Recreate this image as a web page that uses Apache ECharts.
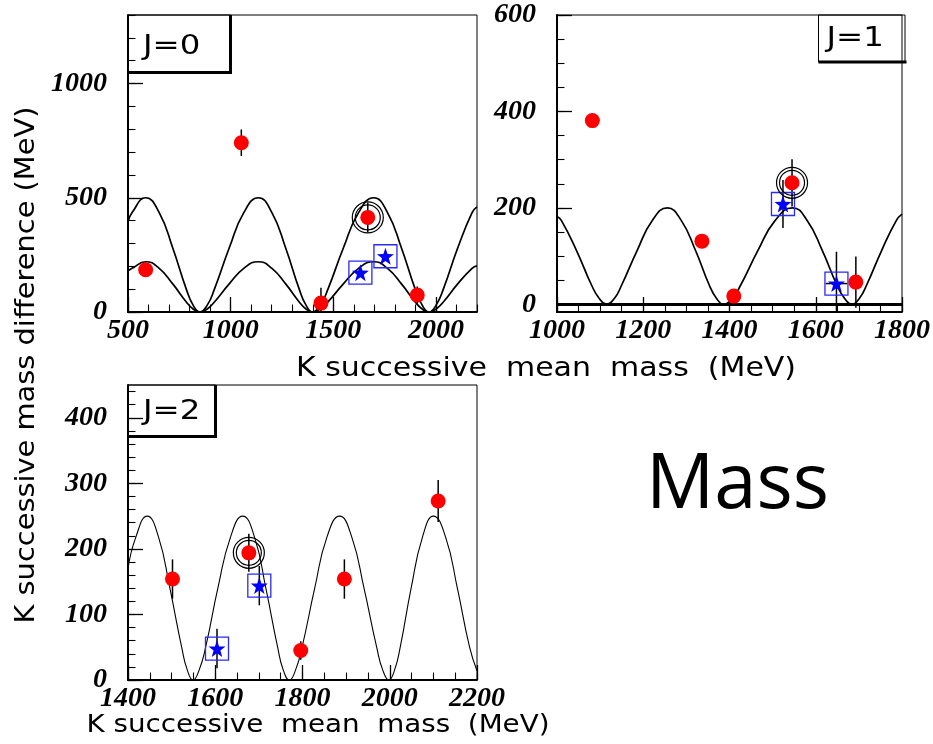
<!DOCTYPE html>
<html>
<head>
<meta charset="utf-8">
<script src="https://cdn.jsdelivr.net/npm/echarts@6/dist/echarts.min.js"></script>
<style>
  html, body { margin: 0; padding: 0; background: #fff; }
  #chart { width: 933px; height: 744px; }
</style>
</head>
<body>
<div id="chart"></div>
<script>
// ---- J=0 panel ----
// [mass, difference, error]
const j0Points = [[586, 185, 0], [1052, 741, 58], [1440, 39, 67], [1668, 414, 65], [1909, 74, 38]];
// [mass, difference, error, mass error]
const j0Stars = [[1632, 172, 0, 0], [1754, 244, 0, 0]];
const j0Ringed = [[1668, 414]];
const j0CurveHigh = [[500, 395], [520, 435], [586, 500], [652, 435], [718, 280], [784, 100], [817, 30], [850, 0],
  [886, 30], [921, 100], [993, 280], [1064, 435], [1135, 500], [1201, 435], [1268, 280], [1334, 100], [1367, 30], [1400, 0],
  [1437, 30], [1474, 100], [1549, 280], [1623, 435], [1697, 500], [1764, 435], [1832, 280], [1899, 100], [1933, 30], [1966, 0],
  [2001, 30], [2036, 100], [2106, 280], [2176, 435], [2200, 460]];
const j0CurveLow = [[500, 180], [520, 191], [586, 220], [652, 191], [718, 123], [784, 44], [817, 13], [850, 0],
  [886, 13], [921, 44], [993, 123], [1064, 191], [1135, 220], [1201, 191], [1268, 123], [1334, 44], [1367, 13], [1400, 0],
  [1437, 13], [1474, 44], [1549, 123], [1623, 191], [1697, 220], [1764, 191], [1832, 123], [1899, 44], [1933, 13], [1966, 0],
  [2001, 13], [2036, 44], [2106, 123], [2176, 191], [2200, 202]];
const j0MajorX = [500, 1000, 1500, 2000];
const j0MajorY = [0, 500, 1000];

// ---- J=1 panel ----
const j1Points = [[1082, 381, 0], [1336, 131, 0], [1410, 17, 0], [1545, 252, 49], [1693, 46, 53]];
const j1Stars = [[1524, 208, 50, 0], [1648, 43, 66, 25]];
const j1Ringed = [[1545, 252]];
const j1Curve = [[1000, 182], [1010, 174], [1045, 112], [1080, 40], [1098, 12], [1115, 0],
  [1133, 12], [1150, 40], [1186, 112], [1221, 174], [1256, 200], [1288, 174], [1321, 112], [1353, 40], [1370, 12], [1386, 0],
  [1406, 12], [1426, 40], [1466, 112], [1506, 174], [1546, 200], [1580, 174], [1615, 112], [1649, 40], [1667, 12], [1684, 0],
  [1701, 12], [1718, 40], [1753, 112], [1787, 174], [1800, 187]];
const j1MajorX = [1000, 1200, 1400, 1600, 1800];
const j1MajorY = [0, 200, 400, 600];

// ---- J=2 panel ----
const j2Points = [[1502, 154, 30], [1677, 194, 29], [1796, 45, 14], [1896, 154, 30], [2111, 273, 32]];
const j2Stars = [[1604, 48, 30, 0], [1701, 144, 30, 0]];
const j2Ringed = [[1677, 194]];
const j2Curve = [[1400, 170], [1418, 218], [1444, 250], [1470, 218], [1496, 140], [1523, 50], [1536, 15], [1549, 0],
  [1563, 15], [1578, 50], [1606, 140], [1635, 218], [1663, 250], [1690, 218], [1716, 140], [1743, 50], [1756, 15], [1770, 0],
  [1784, 15], [1799, 50], [1828, 140], [1856, 218], [1885, 250], [1913, 218], [1941, 140], [1970, 50], [1984, 15], [1998, 0],
  [2011, 15], [2024, 50], [2049, 140], [2075, 218], [2100, 250], [2128, 218], [2155, 140], [2183, 50], [2200, 14]];
const j2MajorX = [1400, 1600, 1800, 2000, 2200];
const j2MajorY = [0, 100, 200, 300, 400];

const legendLabels = ['J=0', 'J=1', 'J=2'];
const xTitle = 'K successive  mean  mass  (MeV)';
const yTitle = 'K successive mass difference (MeV)';
const sideText = 'Mass';

// ---- layout & style ----
const panels = [
  { grid: { left: 128, top: 15, width: 349, height: 297 }, x: [500, 2200], y: [0, 1300],
    majorX: j0MajorX, majorY: j0MajorY, minorXStep: 100, minorYStep: 100 },
  { grid: { left: 557, top: 15, width: 348, height: 297 }, x: [1000, 1800], y: [-16, 600],
    majorX: j1MajorX, majorY: j1MajorY, minorXStep: 50, minorYStep: 50 },
  { grid: { left: 128, top: 385, width: 349, height: 295 }, x: [1400, 2200], y: [0, 450],
    majorX: j2MajorX, majorY: j2MajorY, minorXStep: 50, minorYStep: 20 }
];

function steps(a, b, s) {
  const out = [];
  for (let v = a; v <= b + 1e-9; v += s) out.push(v);
  return out;
}

const tickFont = { fontFamily: 'Liberation Serif', fontWeight: 'bold', fontStyle: 'italic', fontSize: 28, color: '#000' };

const grids = [], xAxes = [], yAxes = [];
panels.forEach((p, i) => {
  grids.push(Object.assign({ show: true, borderColor: '#000', borderWidth: 1, backgroundColor: 'transparent' }, p.grid));
  const mk = (dim, range, majors, minorStep) => {
    const pos = dim === 'x' ? 'bottom' : 'left';
    const lo = Math.max(range[0], 0);
    return [
      { type: 'value', gridIndex: i, min: range[0], max: range[1], position: pos, z: 3,
        axisLine: { show: true, onZero: false, lineStyle: { color: '#000', width: 2 } },
        axisTick: { show: true, inside: true, length: 15, customValues: majors, lineStyle: { color: '#000', width: 1.3 } },
        axisLabel: Object.assign({ show: true, customValues: majors, margin: dim === 'x' ? 5 : 21,
          formatter: v => String(v) }, tickFont),
        splitLine: { show: false } },
      { type: 'value', gridIndex: i, min: range[0], max: range[1], position: pos, z: 3,
        axisLine: { show: false, onZero: false },
        axisTick: { show: true, inside: true, length: 7.5, customValues: steps(lo, range[1], minorStep), lineStyle: { color: '#000', width: 1.1 } },
        axisLabel: { show: false }, splitLine: { show: false } }
    ];
  };
  xAxes.push(...mk('x', p.x, p.majorX, p.minorXStep));
  yAxes.push(...mk('y', p.y, p.majorY, p.minorYStep));
});

const starPath = 'path://M0,-10 L2.35,-3.24 L9.51,-3.09 L3.8,1.24 L5.88,8.09 L0,4 L-5.88,8.09 L-3.8,1.24 L-9.51,-3.09 L-2.35,-3.24 Z';

function ax(i) { return { xAxisIndex: 2 * i, yAxisIndex: 2 * i }; }

function curve(i, data, width, extra) {
  return Object.assign({ type: 'line', data: data, smooth: 0.5, showSymbol: false, silent: true, z: 2,
    lineStyle: { color: '#000', width: width } }, ax(i), extra || {});
}

function errorBars(i, rows) {
  return Object.assign({
    type: 'custom', z: 3, silent: true,
    data: rows.map(r => [r[0], r[1], r[2] || 0, r[3] || 0]),
    renderItem: function (params, api) {
      const cs = params.coordSys;
      const clampY = v => Math.max(cs.y, Math.min(cs.y + cs.height, v));
      const x = api.value(0), y = api.value(1), e = api.value(2), ex = api.value(3);
      const kids = [];
      if (e > 0) {
        const t = api.coord([x, y + e]), b = api.coord([x, y - e]);
        kids.push({ type: 'line', shape: { x1: t[0], y1: clampY(t[1]), x2: b[0], y2: clampY(b[1]) },
          style: { stroke: '#000', lineWidth: 1.5 } });
      }
      if (ex > 0) {
        const l = api.coord([x - ex, y]), r = api.coord([x + ex, y]);
        kids.push({ type: 'line', shape: { x1: l[0], y1: l[1], x2: r[0], y2: r[1] },
          style: { stroke: '#000', lineWidth: 1.5 } });
      }
      return { type: 'group', children: kids };
    }
  }, ax(i));
}

function markers(i, pts, stars, ringed) {
  return [
    errorBars(i, pts),
    errorBars(i, stars),
    Object.assign({ type: 'scatter', data: stars, symbol: 'rect', symbolSize: 23, z: 4, silent: true,
      itemStyle: { color: 'rgba(0,0,0,0)', borderColor: '#2828ff', borderWidth: 1.3, opacity: 1 } }, ax(i)),
    Object.assign({ type: 'scatter', data: pts, symbol: 'circle', symbolSize: 15, z: 5, silent: true,
      itemStyle: { color: '#ff0000', opacity: 1 } }, ax(i)),
    Object.assign({ type: 'scatter', data: stars, symbol: starPath, symbolSize: 17, z: 6, silent: true,
      itemStyle: { color: '#0000ff', opacity: 1 } }, ax(i)),
    Object.assign({ type: 'scatter', data: ringed, symbol: 'circle', symbolSize: 31, z: 6, silent: true,
      itemStyle: { color: 'rgba(0,0,0,0)', borderColor: '#000', borderWidth: 1.2, opacity: 1 } }, ax(i)),
    Object.assign({ type: 'scatter', data: ringed, symbol: 'circle', symbolSize: 25, z: 6, silent: true,
      itemStyle: { color: 'rgba(0,0,0,0)', borderColor: '#000', borderWidth: 1.2, opacity: 1 } }, ax(i))
  ];
}

const series = [
  curve(0, j0CurveHigh, 1.7),
  curve(0, j0CurveLow, 1.7),
  ...markers(0, j0Points, j0Stars, j0Ringed),
  curve(1, j1Curve, 1.7, {
    markLine: { silent: true, symbol: 'none', label: { show: false },
      lineStyle: { color: '#000', width: 3, type: 'solid' }, data: [{ yAxis: 0 }] }
  }),
  ...markers(1, j1Points, j1Stars, j1Ringed),
  curve(2, j2Curve, 1.1),
  ...markers(2, j2Points, j2Stars, j2Ringed)
];

// legend boxes: thin outline with heavy right/bottom edge
function legendBox(x0, y0, x1, y1, label, tx, ty, heavyRight) {
  const els = [
    { type: 'rect', shape: { x: x0, y: y0, width: x1 - x0, height: y1 - y0 },
      style: { fill: '#fff', stroke: '#000', lineWidth: 1 }, z: -1 },
    { type: 'line', shape: { x1: x0, y1: y1, x2: x1 + 1.5, y2: y1 }, style: { stroke: '#000', lineWidth: 3 }, z: -1 },
    { type: 'text', x: tx, y: ty, scaleX: 1.2, z: -1,
      style: { text: label, fontFamily: 'DejaVu Sans', fontSize: 27, fill: '#000', align: 'left', verticalAlign: 'middle' } }
  ];
  if (heavyRight) {
    els.push({ type: 'line', shape: { x1: x1, y1: y0, x2: x1, y2: y1 }, style: { stroke: '#000', lineWidth: 3 }, z: -1 });
  }
  return els;
}

const titleFont = 'DejaVu Sans';
const graphic = [
  ...legendBox(128.5, 15, 230.5, 72.5, legendLabels[0], 143, 46.5, true),
  ...legendBox(818.5, 15, 905, 62, legendLabels[1], 826.5, 38.5, false),
  ...legendBox(128.5, 385, 215.5, 436.5, legendLabels[2], 143, 411.5, true),
  { type: 'text', x: 27, y: 365, rotation: Math.PI / 2, scaleX: 1.11,
    style: { text: yTitle, fontFamily: titleFont, fontSize: 26, fill: '#000', align: 'center', verticalAlign: 'middle' } },
  { type: 'text', x: 546, y: 369, scaleX: 1.11,
    style: { text: xTitle, fontFamily: titleFont, fontSize: 27, fill: '#000', align: 'center', verticalAlign: 'middle' } },
  { type: 'text', x: 318, y: 725, scaleX: 1.11,
    style: { text: xTitle, fontFamily: titleFont, fontSize: 25, fill: '#000', align: 'center', verticalAlign: 'middle' } },
  { type: 'text', x: 646, y: 486,
    style: { text: sideText, fontFamily: 'Open Sans', fontSize: 76, fill: '#000', align: 'left', verticalAlign: 'middle' } }
];

const chart = echarts.init(document.getElementById('chart'), null, { renderer: 'canvas' });
chart.setOption({
  animation: false,
  backgroundColor: '#fff',
  grid: grids,
  xAxis: xAxes,
  yAxis: yAxes,
  series: series,
  graphic: graphic
});
</script>
</body>
</html>
